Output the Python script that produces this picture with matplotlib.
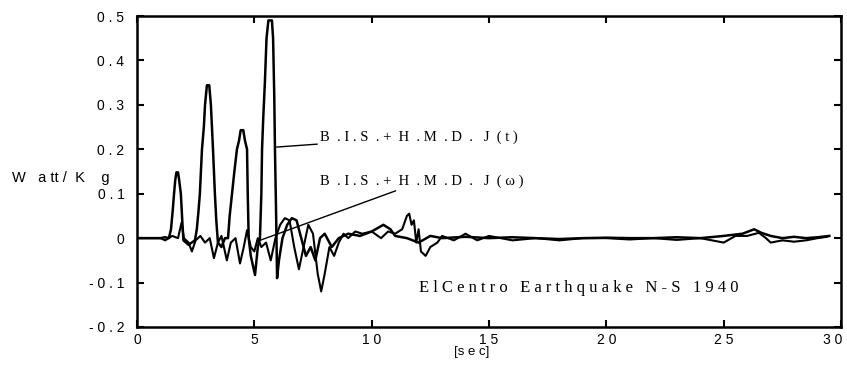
import matplotlib
matplotlib.use("Agg")
import matplotlib.pyplot as plt
from matplotlib.transforms import ScaledTranslation

# ---------------------------------------------------
# DATA
# ---------------------------------------------------
# B.I.S. + H.M.D. J(t) : the curve with the four big peaks
t_time = [0.0, 1.0, 1.2, 1.36, 1.45, 1.52, 1.58, 1.63, 1.68, 1.75, 1.8, 1.87,
          1.93, 1.98, 2.2, 2.47, 2.55, 2.62, 2.68, 2.77, 2.85, 2.9, 2.98,
          3.08, 3.15, 3.24, 3.28, 3.32, 3.38, 3.45, 3.6, 3.75, 3.88, 3.95,
          4.05, 4.15, 4.26, 4.35, 4.42, 4.53, 4.6, 4.69, 4.72, 4.76, 4.85,
          5.03, 5.15, 5.24, 5.3, 5.33, 5.38, 5.45, 5.52, 5.6, 5.75, 5.8, 5.85,
          5.88, 5.93, 5.97, 6.05, 6.2, 6.4, 6.6, 6.8, 7.0, 7.2, 7.4, 7.6, 7.8,
          8.0, 8.3, 8.6, 9.0, 9.5, 10.0, 10.5, 10.8, 11.0, 11.5, 12.0, 12.5,
          13.0, 14.0, 15.0, 16.0, 17.0, 18.0, 19.0, 20.0, 21.0, 22.0, 23.0,
          24.0, 25.0, 25.8, 26.3, 26.6, 27.0, 27.5, 28.0, 28.5, 29.0, 29.5]
j_time = [0.0, 0.0, 0.002, 0.0, 0.02, 0.06, 0.1, 0.13, 0.148, 0.148, 0.13,
          0.1, 0.04, -0.005, -0.015, -0.005, 0.02, 0.06, 0.1, 0.2, 0.25, 0.3,
          0.344, 0.344, 0.3, 0.2, 0.15, 0.1, 0.04, -0.01, -0.02, 0.0, 0.0,
          0.05, 0.1, 0.15, 0.2, 0.22, 0.243, 0.243, 0.22, 0.2, 0.1, 0.0,
          -0.04, -0.083, -0.02, 0.0, 0.1, 0.2, 0.27, 0.35, 0.45, 0.49, 0.49,
          0.45, 0.32, 0.2, 0.05, -0.09, -0.05, 0.0, 0.03, 0.045, 0.04, 0.0,
          -0.04, -0.02, -0.05, 0.0, 0.01, -0.02, 0.0, 0.01, 0.005, 0.015,
          0.03, 0.02, 0.005, 0.0, -0.01, 0.005, 0.0, 0.003, 0.0, 0.002, 0.0,
          -0.002, 0.0, 0.001, 0.0, 0.0, 0.002, 0.0, 0.005, 0.01, 0.02, 0.012,
          0.005, 0.0, 0.003, 0.0, 0.002, 0.005]

# B.I.S. + H.M.D. J(w) : the oscillating curve
t_freq = [0.0, 1.0, 1.2, 1.5, 1.75, 1.9, 2.0, 2.2, 2.34, 2.5, 2.7, 2.9, 3.1,
          3.28, 3.45, 3.6, 3.83, 4.0, 4.2, 4.39, 4.55, 4.69, 4.85, 5.0, 5.15,
          5.3, 5.5, 5.7, 5.9, 6.1, 6.3, 6.5, 6.7, 6.9, 7.1, 7.3, 7.5, 7.7,
          7.85, 8.0, 8.2, 8.4, 8.6, 8.8, 9.0, 9.3, 9.6, 10.0, 10.4, 10.7, 11.0,
          11.3, 11.5, 11.6, 11.7, 11.8, 11.9, 12.0, 12.1, 12.3, 12.5, 12.8,
          13.0, 13.5, 14.0, 14.5, 15.0, 15.5, 16.0, 17.0, 18.0, 19.0, 20.0,
          21.0, 22.0, 23.0, 24.0, 25.0, 25.5, 26.0, 26.5, 26.8, 27.0, 27.5,
          28.0, 28.5, 29.0, 29.4]
j_freq = [0.0, 0.0, -0.005, 0.005, 0.0, 0.035, 0.0, -0.01, -0.03, -0.005,
          0.005, -0.01, 0.0, -0.045, -0.01, 0.005, -0.05, -0.01, 0.0, -0.057,
          -0.02, 0.018, -0.02, -0.03, 0.0, -0.02, -0.01, -0.05, 0.0, 0.03,
          0.045, 0.04, -0.02, -0.07, -0.02, 0.03, 0.01, -0.08, -0.12, -0.08,
          -0.02, -0.04, -0.01, 0.01, 0.0, 0.015, 0.01, 0.015, 0.0, 0.015, 0.01,
          0.02, 0.05, 0.055, 0.03, 0.04, -0.01, 0.02, -0.03, -0.04, -0.02,
          -0.01, 0.005, -0.005, 0.01, -0.005, 0.005, 0.0, -0.005, 0.0, -0.005,
          0.0, 0.0, -0.003, 0.0, -0.004, 0.0, -0.01, 0.005, 0.005, 0.012, 0.0,
          -0.01, -0.005, -0.008, -0.005, 0.0, 0.003]

x_ticks = [0, 5, 10, 15, 20, 25, 30]
x_tick_labels = ["0", "5", "1 0", "1 5", "2 0", "2 5", "3 0"]
y_ticks = [-0.2, -0.1, 0.0, 0.1, 0.2, 0.3, 0.4, 0.5]
y_tick_labels = ["- 0 . 2", "- 0 . 1", "0", "0 . 1", "0 . 2", "0 . 3",
                 "0 . 4", "0 . 5"]

label_t = "B  . I . S  . +  H  . M  . D  .   J  ( t )"
label_w = "B  . I . S  . +  H  . M  . D  .   J  ( ω )"
title_text = "E l C e n t r o   E a r t h q u a k e   N - S   1 9 4 0"

# ---------------------------------------------------
# FIGURE
# ---------------------------------------------------
fig = plt.figure(figsize=(8.47, 3.67), dpi=100)
ax = fig.add_axes([0.1617, 0.109, 0.8313, 0.8474])

ax.plot(t_freq, j_freq, color="black", lw=1.5)
ax.plot(t_time, j_time, color="black", lw=1.8)

ax.set_xlim(0, 30)
ax.set_ylim(-0.2, 0.5)

ax.set_xticks(x_ticks)
ax.set_xticklabels(x_tick_labels, family="Liberation Sans", fontsize=10)
ax.set_yticks(y_ticks)
ax.set_yticklabels(y_tick_labels, family="Liberation Sans", fontsize=10)

ax.tick_params(direction="in", length=5, width=1.5, top=True, right=True)
ax.tick_params(axis="y", pad=9)
ax.tick_params(axis="x", pad=4)

# keep the last x label inside the picture
last = ax.get_xticklabels()[-1]
last.set_transform(last.get_transform() +
                   ScaledTranslation(-6 / 72, 0, fig.dpi_scale_trans))

for spine in ax.spines.values():
    spine.set_linewidth(1.8)

# ---------------------------------------------------
# ANNOTATIONS
# ---------------------------------------------------
serif = "Liberation Serif"
ax.annotate(label_t, xy=(5.95, 0.205), xytext=(7.8, 0.228),
            family=serif, fontsize=10.5, va="center", ha="left",
            arrowprops=dict(arrowstyle="-", color="black", lw=1.0,
                            shrinkA=0, shrinkB=0))
ax.annotate(label_w, xy=(5.24, -0.005), xytext=(7.8, 0.128),
            family=serif, fontsize=10.5, va="center", ha="left",
            arrowprops=dict(arrowstyle="-", color="black", lw=1.0,
                            shrinkA=0, shrinkB=0))
ax.text(12.0, -0.113, title_text, family=serif, fontsize=12,
        va="center", ha="left")

fig.text(12 / 847, 1 - 178 / 367, "W   a tt /  K    g",
         family="Liberation Sans", fontsize=10.5, va="center", ha="left")
fig.text(472 / 847, 1 - 352 / 367, "[s e c]", family="Liberation Sans",
         fontsize=9.5, va="center", ha="center")

fig.savefig("out.png", dpi=100)
